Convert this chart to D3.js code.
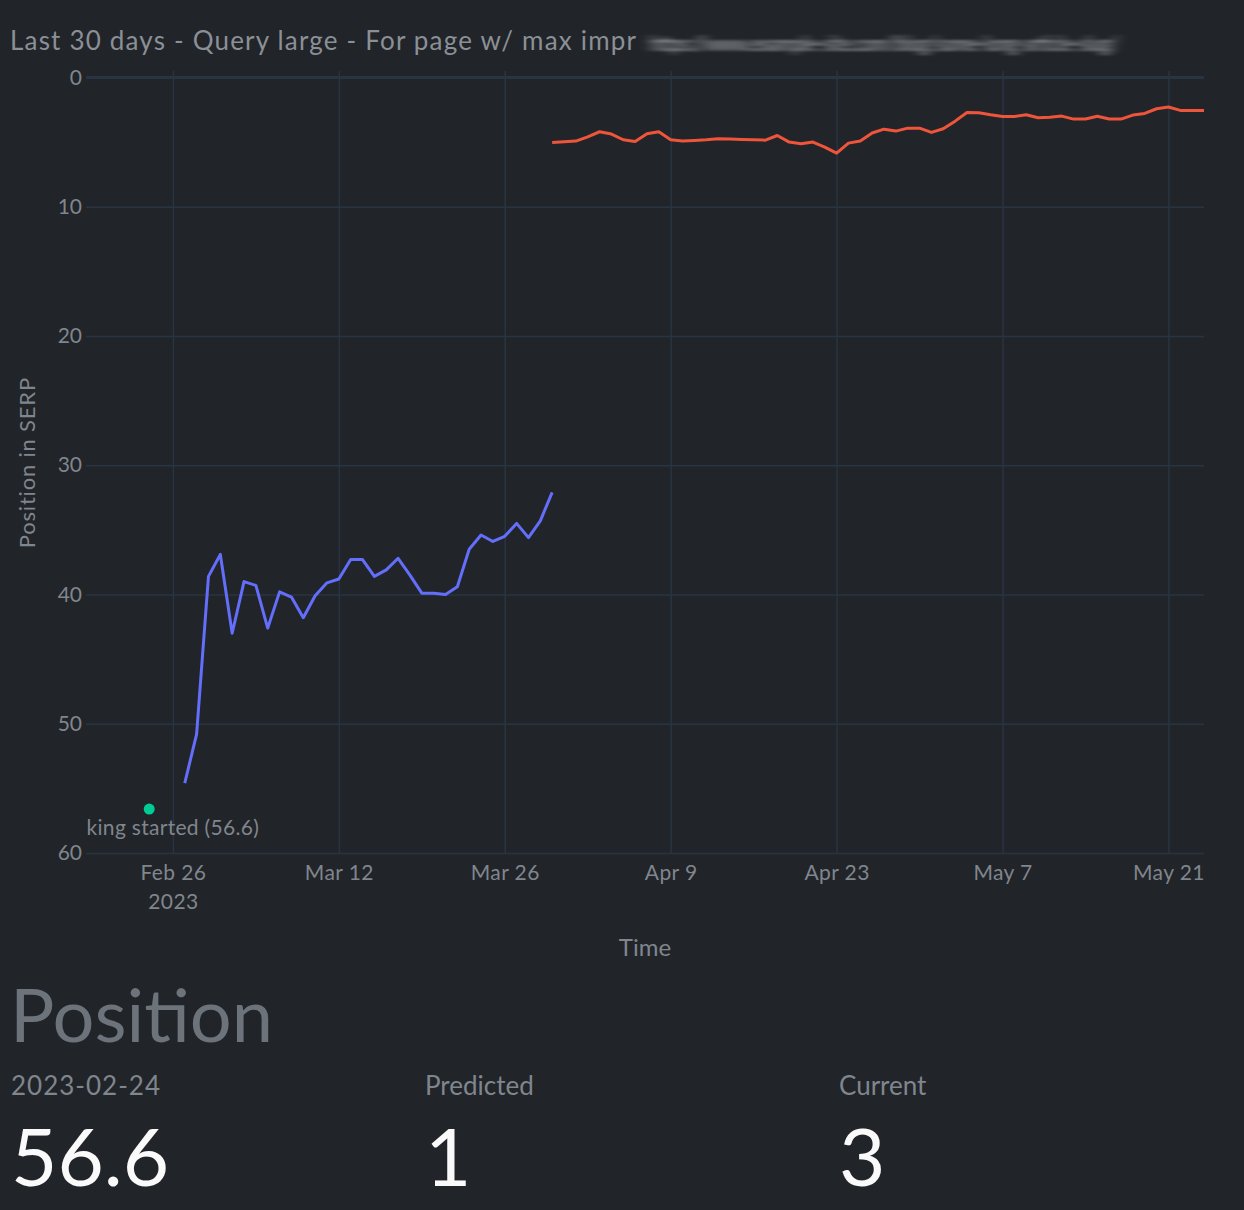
<!DOCTYPE html>
<html>
<head>
<meta charset="utf-8">
<script src="https://cdn.jsdelivr.net/npm/d3@7"></script>
<style>
  html, body { margin: 0; padding: 0; background: #212429; }
  svg { display: block; font-family: Lato, "Open Sans", sans-serif; }
</style>
</head>
<body>
<svg id="chart" width="1244" height="1210"></svg>
<script>
// history of the query position (blue)
const historyDates = [
  '2023-02-27', '2023-02-28', '2023-03-01', '2023-03-02', '2023-03-03', '2023-03-04',
  '2023-03-05', '2023-03-06', '2023-03-07', '2023-03-08', '2023-03-09', '2023-03-10',
  '2023-03-11', '2023-03-12', '2023-03-13', '2023-03-14', '2023-03-15', '2023-03-16',
  '2023-03-17', '2023-03-18', '2023-03-19', '2023-03-20', '2023-03-21', '2023-03-22',
  '2023-03-23', '2023-03-24', '2023-03-25', '2023-03-26', '2023-03-27', '2023-03-28',
  '2023-03-29', '2023-03-30'
];
const historyValues = [
  54.6, 50.8, 38.6, 36.9, 43.0, 39.0, 39.3, 42.6, 39.8, 40.2, 41.8, 40.1,
  39.1, 38.8, 37.3, 37.3, 38.6, 38.1, 37.2, 38.5, 39.9, 39.9, 40.0, 39.4,
  36.5, 35.4, 35.9, 35.5, 34.5, 35.6, 34.3, 32.1
];

// recent position for the page (red)
const recentDates = [
  '2023-03-30', '2023-03-31', '2023-04-01', '2023-04-02', '2023-04-03', '2023-04-04',
  '2023-04-05', '2023-04-06', '2023-04-07', '2023-04-08', '2023-04-09', '2023-04-10',
  '2023-04-11', '2023-04-12', '2023-04-13', '2023-04-14', '2023-04-15', '2023-04-16',
  '2023-04-17', '2023-04-18', '2023-04-19', '2023-04-20', '2023-04-21', '2023-04-22',
  '2023-04-23', '2023-04-24', '2023-04-25', '2023-04-26', '2023-04-27', '2023-04-28',
  '2023-04-29', '2023-04-30', '2023-05-01', '2023-05-02', '2023-05-03', '2023-05-04',
  '2023-05-05', '2023-05-06', '2023-05-07', '2023-05-08', '2023-05-09', '2023-05-10',
  '2023-05-11', '2023-05-12', '2023-05-13', '2023-05-14', '2023-05-15', '2023-05-16',
  '2023-05-17', '2023-05-18', '2023-05-19', '2023-05-20', '2023-05-21', '2023-05-22',
  '2023-05-23', '2023-05-24'
];
const recentValues = [
  5.03, 4.97, 4.92, 4.59, 4.2, 4.38, 4.82, 4.95, 4.36, 4.2, 4.82, 4.92,
  4.87, 4.82, 4.74, 4.77, 4.8, 4.82, 4.85, 4.49, 5.0, 5.13, 5.0, 5.39,
  5.85, 5.08, 4.92, 4.3, 4.0, 4.15, 3.92, 3.92, 4.25, 3.97, 3.38, 2.71,
  2.73, 2.89, 3.02, 3.02, 2.89, 3.12, 3.07, 2.99, 3.22, 3.22, 3.0, 3.22,
  3.22, 2.91, 2.78, 2.42, 2.29, 2.55, 2.55, 2.55
];

// tracking start marker
const startDate = '2023-02-24';
const startValue = 56.6;

const xTickDates = ['2023-02-26', '2023-03-12', '2023-03-26', '2023-04-09', '2023-04-23', '2023-05-07', '2023-05-21'];
const xTickLabels = [['Feb 26', '2023'], ['Mar 12'], ['Mar 26'], ['Apr 9'], ['Apr 23'], ['May 7'], ['May 21']];
const yTicks = [0, 10, 20, 30, 40, 50, 60];
const xDomain = ['2023-02-18T16:00', '2023-05-24T00:00'];
const yDomain = [60, -0.5];

const titleText = 'Last 30 days - Query large - For page w/ max impr';
const hiddenUrl = 'https://www.example-site.com/blog/some-long-article-slug/';
const metricTitle = 'Position';
const metricLabels = ['2023-02-24', 'Predicted', 'Current'];
const metricValues = ['56.6', '1', '3'];

const parseDay = d3.timeParse('%Y-%m-%d');
const parseStamp = d3.timeParse('%Y-%m-%dT%H:%M');

const margin = { left: 86, right: 40, top: 71, bottom: 357 };
const W = 1244, H = 1210;
const plotW = W - margin.left - margin.right;
const plotH = H - margin.top - margin.bottom;

const gridColor = '#283442';
const textColor = '#80868d';

const svg = d3.select('#chart');

const x = d3.scaleTime()
  .domain(xDomain.map(parseStamp))
  .range([0, plotW]);
const y = d3.scaleLinear()
  .domain(yDomain)
  .range([plotH, 0]);

// title + blurred url
const defs = svg.append('defs');
defs.append('filter').attr('id', 'smear')
  .attr('x', '-10%').attr('y', '-60%').attr('width', '120%').attr('height', '220%')
  .append('feGaussianBlur').attr('stdDeviation', '6 1.1');
defs.append('clipPath').attr('id', 'plotClip')
  .append('rect').attr('width', plotW).attr('height', plotH);

svg.append('text')
  .attr('x', 10).attr('y', 50)
  .attr('fill', '#8a9096')
  .attr('font-size', 26)
  .attr('textLength', 626)
  .attr('lengthAdjust', 'spacing')
  .text(titleText);
svg.append('text')
  .attr('x', 650).attr('y', 51)
  .attr('fill', '#b4b9be')
  .attr('font-size', 22)
  .attr('textLength', 468)
  .attr('lengthAdjust', 'spacingAndGlyphs')
  .attr('filter', 'url(#smear)')
  .text(hiddenUrl);

const g = svg.append('g').attr('transform', `translate(${margin.left},${margin.top})`);

// y grid + labels
const yAxis = g.append('g')
  .call(d3.axisLeft(y).tickValues(yTicks).tickSize(-plotW).tickPadding(4).tickFormat(d3.format('d')));
yAxis.select('.domain').remove();
yAxis.selectAll('line').attr('stroke', gridColor).attr('stroke-width', 1.5);
yAxis.selectAll('text').attr('fill', textColor).attr('font-size', 21).attr('font-family', 'Lato, sans-serif');

// x grid + labels
const xAxis = g.append('g')
  .attr('transform', `translate(0,${plotH})`)
  .call(d3.axisBottom(x).tickValues(xTickDates.map(parseDay)).tickSize(plotH).tickPadding(0).tickFormat(''));
xAxis.select('.domain').remove();
xAxis.selectAll('.tick line').attr('y1', 0).attr('y2', -plotH)
  .attr('stroke', gridColor).attr('stroke-width', 1.5);
xAxis.selectAll('.tick').each(function (d, i) {
  const t = d3.select(this).append('text')
    .attr('fill', textColor).attr('font-size', 21)
    .attr('letter-spacing', 0.4)
    .attr('text-anchor', 'middle').attr('font-family', 'Lato, sans-serif');
  xTickLabels[i].forEach((line, k) => {
    t.append('tspan').attr('x', 0).attr('y', 27 + k * 29).text(line);
  });
});

// zero line
g.append('line')
  .attr('x1', 0).attr('x2', plotW)
  .attr('y1', y(0)).attr('y2', y(0))
  .attr('stroke', gridColor).attr('stroke-width', 3);

// series
const line = d3.line()
  .x(d => x(d.date))
  .y(d => y(d.value));
const series = [
  { dates: historyDates, values: historyValues, color: '#636efa' },
  { dates: recentDates, values: recentValues, color: '#ef553b' }
];
const plot = g.append('g').attr('clip-path', 'url(#plotClip)');
series.forEach(s => {
  const pts = s.dates.map((d, i) => ({ date: parseDay(d), value: s.values[i] }));
  plot.append('path')
    .datum(pts)
    .attr('d', line)
    .attr('fill', 'none')
    .attr('stroke', s.color)
    .attr('stroke-width', 3)
    .attr('stroke-linejoin', 'round');
});

// tracking start marker + annotation
const sx = x(parseDay(startDate)), sy = y(startValue);
plot.append('circle')
  .attr('cx', sx).attr('cy', sy).attr('r', 5.5)
  .attr('fill', '#00cc96');
plot.append('text')
  .attr('x', sx + 4).attr('y', sy + 26)
  .attr('text-anchor', 'middle')
  .attr('fill', textColor).attr('font-size', 21)
  .attr('letter-spacing', 0.3)
  .text(`Tracking started (${startValue})`);

// axis titles
svg.append('text')
  .attr('transform', `translate(35,${margin.top + y(29.8)}) rotate(-90)`)
  .attr('text-anchor', 'middle')
  .attr('fill', textColor).attr('font-size', 22)
  .attr('letter-spacing', 0.8)
  .text('Position in SERP');
svg.append('text')
  .attr('x', 645).attr('y', 956)
  .attr('text-anchor', 'middle')
  .attr('fill', textColor).attr('font-size', 24)
  .text('Time');

// metric block
svg.append('text')
  .attr('x', 10).attr('y', 1042)
  .attr('fill', '#6c737b').attr('font-size', 74)
  .text(metricTitle);
const colX = [11, 425, 839];
metricLabels.forEach((lab, i) => {
  svg.append('text')
    .attr('x', colX[i]).attr('y', 1095)
    .attr('fill', '#80868d').attr('font-size', 26)
    .attr('letter-spacing', i === 0 ? 1 : 0)
    .text(lab);
  svg.append('text')
    .attr('x', colX[i]).attr('y', 1186)
    .attr('fill', '#fafafa').attr('font-size', 80)
    .text(metricValues[i]);
});
</script>
</body>
</html>
